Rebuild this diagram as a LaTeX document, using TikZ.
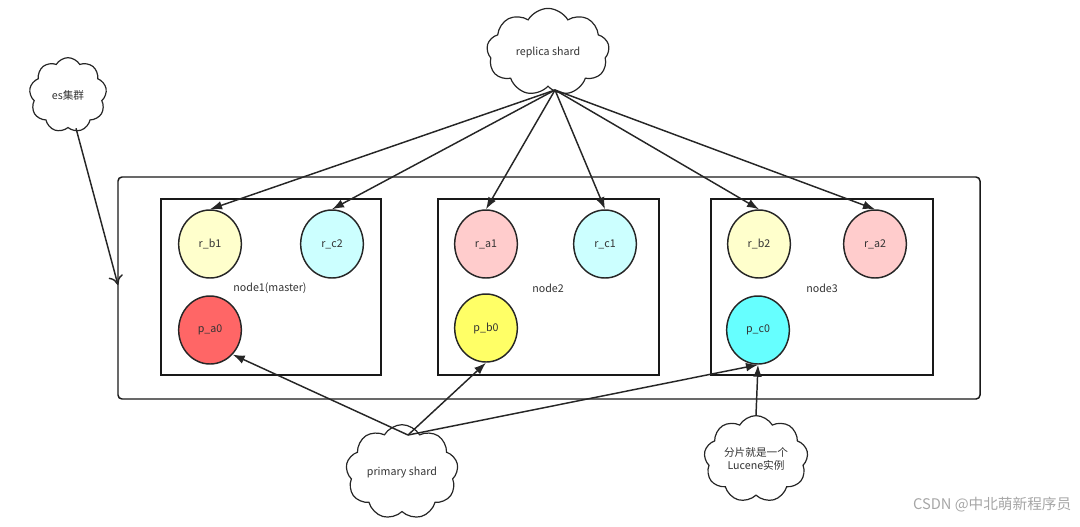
\documentclass[tikz,border=0pt]{standalone}
\usepackage{fontspec}
\setmainfont{Noto Sans CJK SC}
\usetikzlibrary{shapes.symbols,shapes.geometric,arrows.meta}
\definecolor{ly}{HTML}{FFFFCC}
\definecolor{lc}{HTML}{CCFFFF}
\definecolor{lr}{HTML}{FFCCCC}
\definecolor{dr}{HTML}{FF6666}
\definecolor{dy}{HTML}{FFFF66}
\definecolor{dc}{HTML}{66FFFF}
\begin{document}
\begin{tikzpicture}[x=0.75pt,y=-0.75pt,
  lbl/.style={font=\fontsize{8}{10}\selectfont,text=black!80},
  sh/.style={ellipse,draw=black!85,line width=1.1pt,minimum width=47pt,minimum height=51pt,inner sep=0pt,lbl},
  box/.style={draw=black!90,line width=1.1pt},
  cl/.style={cloud,cloud puffs=9,cloud puff arc=120,aspect=1.3,draw=black!85,line width=0.9pt,fill=white,lbl,align=center,inner sep=1pt},
  ar/.style={draw=black!85,line width=1.1pt,-{Latex[length=9pt,width=6.5pt]}}]
\useasboundingbox (0,0) rectangle (1080,526);
\draw[box,rounded corners=3pt] (118,177) rectangle (980,399);
\draw[box] (161,199) rectangle (381,375);
\draw[box] (438,199) rectangle (659,375);
\draw[box] (711,199) rectangle (933,375);
\node[lbl] (n1) at (270,288) {node1(master)};
\node[lbl] (n2) at (548,288) {node2};
\node[lbl] (n3) at (822,288) {node3};
\node[sh,fill=ly] (rb1) at (210,244) {r\_b1};
\node[sh,fill=lc] (rc2) at (332,244) {r\_c2};
\node[sh,fill=dr] (pa0) at (210,330) {p\_a0};
\node[sh,fill=lr] (ra1) at (486,244) {r\_a1};
\node[sh,fill=lc] (rc1) at (605,244) {r\_c1};
\node[sh,fill=dy] (pb0) at (486,328) {p\_b0};
\node[sh,fill=ly] (rb2) at (759,244) {r\_b2};
\node[sh,fill=lr] (ra2) at (875,244) {r\_a2};
\node[sh,fill=dc] (pc0) at (758,330) {p\_c0};
\node[cl,minimum width=92pt,minimum height=58pt] (rep) at (548,52) {replica shard};
\node[cl,minimum width=58pt,minimum height=56pt] (es) at (68,95) {es集群};
\node[cl,minimum width=82pt,minimum height=58pt] (pri) at (402,472) {primary shard};
\node[cl,minimum width=78pt,minimum height=60pt] (luc) at (756,459) {分片就是一个\\Lucene实例};
\coordinate (rp) at (555,90);
\coordinate (pp) at (408,435);
\coordinate (esb) at (118,285);
\foreach \t in {rb1,rc2,ra1,rc1,rb2,ra2} \draw[ar] (rp) -- (\t.north);
\draw[draw=black!85,line width=1.1pt,-{To[length=7pt,width=11pt]}] (es.south) ++(6pt,0) -- (esb);
\draw[ar] (pp) -- (pa0.south east);
\draw[ar] (pp) -- (pb0.south);
\draw[ar] (pp) -- (pc0.south);
\draw[ar] (luc.north) -- (pc0.south);
\node[font=\fontsize{11}{13}\selectfont,text=black!35,anchor=east] (wm) at (1076,505) {CSDN @中北萌新程序员};
\end{tikzpicture}
\end{document}
